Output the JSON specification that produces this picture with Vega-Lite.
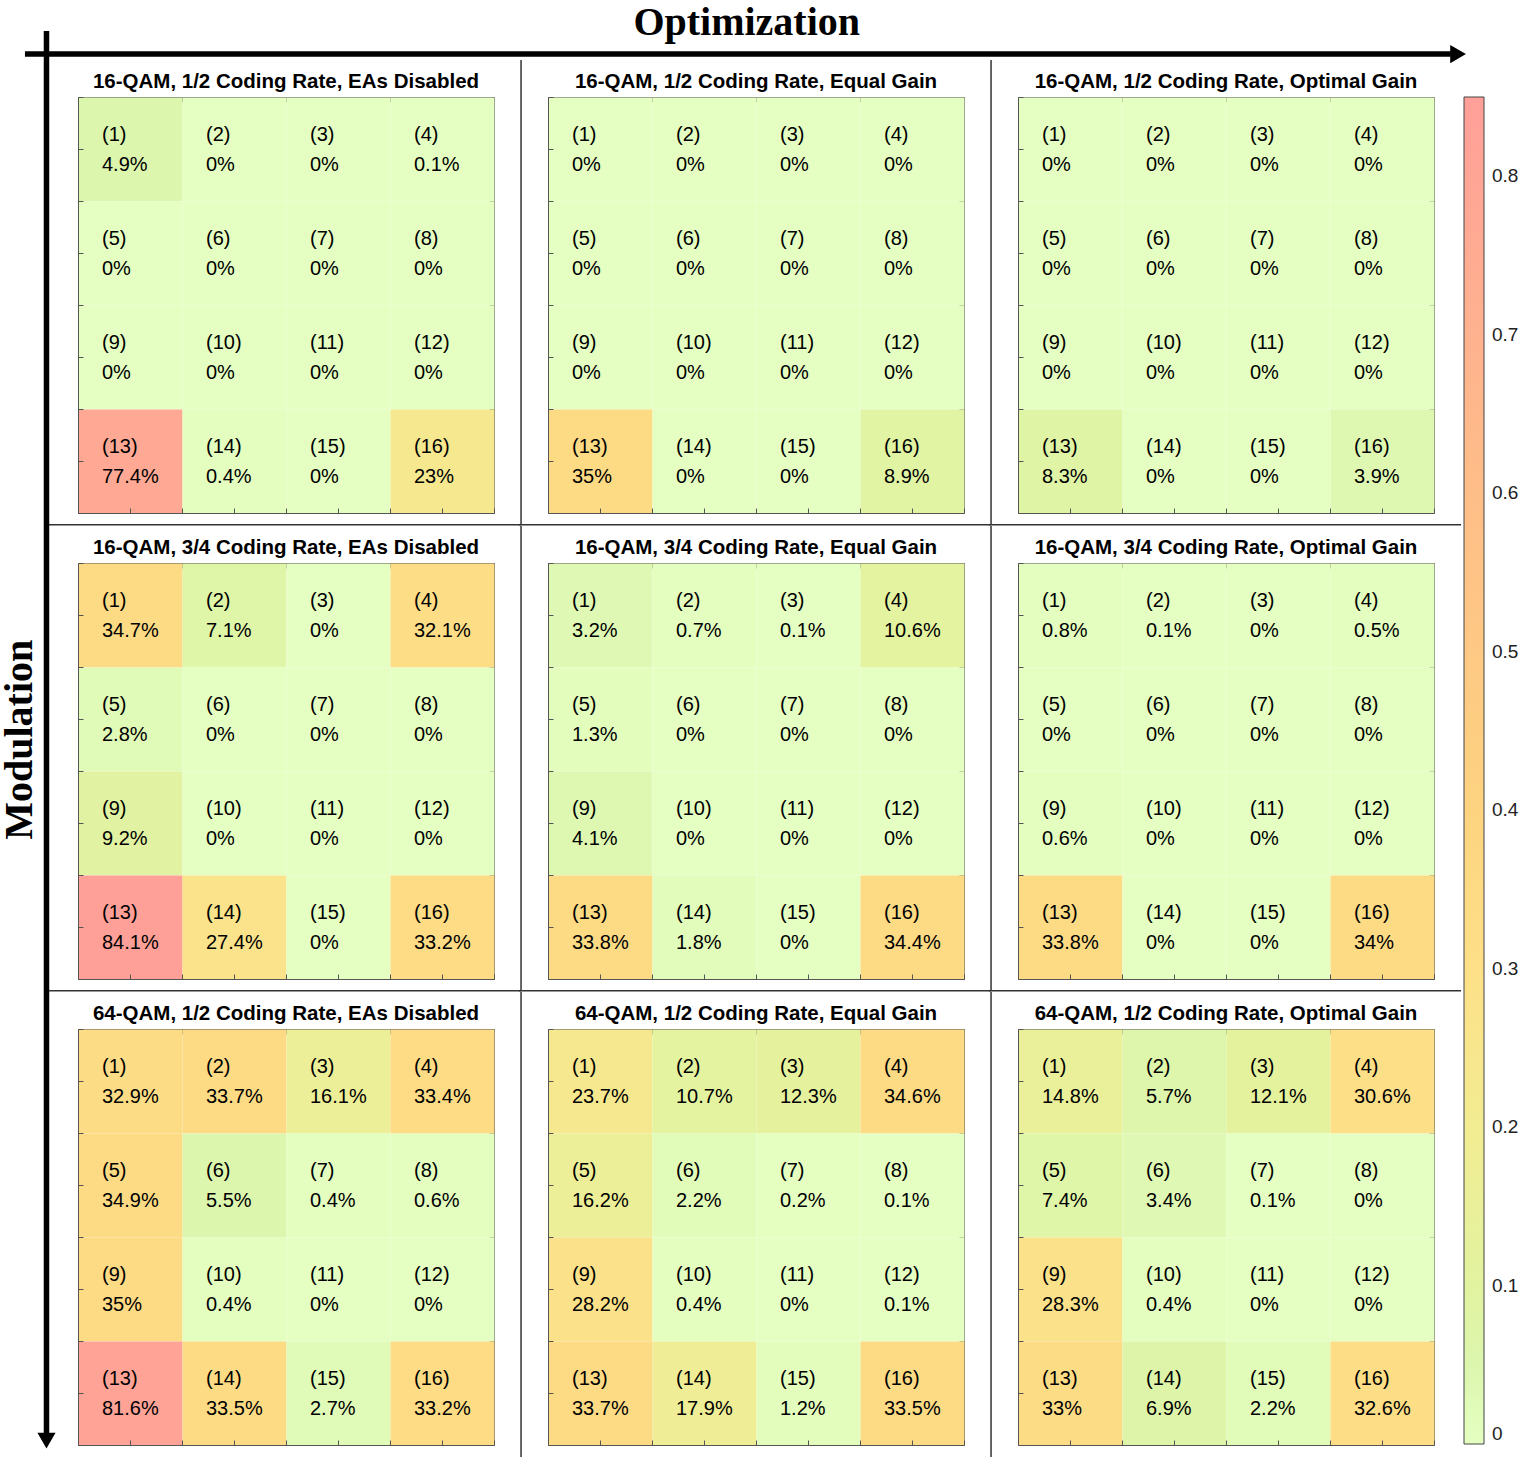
{
  "$schema": "https://vega.github.io/schema/vega-lite/v6.json",
  "background": "white",
  "padding": {"left": -1, "top": 2, "right": 0, "bottom": 0},
  "bounds": "flush",
  "data": {"values": [
    {"p":"16-QAM, 1/2 Coding Rate, EAs Disabled","r":1,"c":1,"id":"(1)","v":0.049},
    {"p":"16-QAM, 1/2 Coding Rate, EAs Disabled","r":1,"c":2,"id":"(2)","v":0},
    {"p":"16-QAM, 1/2 Coding Rate, EAs Disabled","r":1,"c":3,"id":"(3)","v":0},
    {"p":"16-QAM, 1/2 Coding Rate, EAs Disabled","r":1,"c":4,"id":"(4)","v":0.001},
    {"p":"16-QAM, 1/2 Coding Rate, EAs Disabled","r":2,"c":1,"id":"(5)","v":0},
    {"p":"16-QAM, 1/2 Coding Rate, EAs Disabled","r":2,"c":2,"id":"(6)","v":0},
    {"p":"16-QAM, 1/2 Coding Rate, EAs Disabled","r":2,"c":3,"id":"(7)","v":0},
    {"p":"16-QAM, 1/2 Coding Rate, EAs Disabled","r":2,"c":4,"id":"(8)","v":0},
    {"p":"16-QAM, 1/2 Coding Rate, EAs Disabled","r":3,"c":1,"id":"(9)","v":0},
    {"p":"16-QAM, 1/2 Coding Rate, EAs Disabled","r":3,"c":2,"id":"(10)","v":0},
    {"p":"16-QAM, 1/2 Coding Rate, EAs Disabled","r":3,"c":3,"id":"(11)","v":0},
    {"p":"16-QAM, 1/2 Coding Rate, EAs Disabled","r":3,"c":4,"id":"(12)","v":0},
    {"p":"16-QAM, 1/2 Coding Rate, EAs Disabled","r":4,"c":1,"id":"(13)","v":0.774},
    {"p":"16-QAM, 1/2 Coding Rate, EAs Disabled","r":4,"c":2,"id":"(14)","v":0.004},
    {"p":"16-QAM, 1/2 Coding Rate, EAs Disabled","r":4,"c":3,"id":"(15)","v":0},
    {"p":"16-QAM, 1/2 Coding Rate, EAs Disabled","r":4,"c":4,"id":"(16)","v":0.23},

    {"p":"16-QAM, 1/2 Coding Rate, Equal Gain","r":1,"c":1,"id":"(1)","v":0},
    {"p":"16-QAM, 1/2 Coding Rate, Equal Gain","r":1,"c":2,"id":"(2)","v":0},
    {"p":"16-QAM, 1/2 Coding Rate, Equal Gain","r":1,"c":3,"id":"(3)","v":0},
    {"p":"16-QAM, 1/2 Coding Rate, Equal Gain","r":1,"c":4,"id":"(4)","v":0},
    {"p":"16-QAM, 1/2 Coding Rate, Equal Gain","r":2,"c":1,"id":"(5)","v":0},
    {"p":"16-QAM, 1/2 Coding Rate, Equal Gain","r":2,"c":2,"id":"(6)","v":0},
    {"p":"16-QAM, 1/2 Coding Rate, Equal Gain","r":2,"c":3,"id":"(7)","v":0},
    {"p":"16-QAM, 1/2 Coding Rate, Equal Gain","r":2,"c":4,"id":"(8)","v":0},
    {"p":"16-QAM, 1/2 Coding Rate, Equal Gain","r":3,"c":1,"id":"(9)","v":0},
    {"p":"16-QAM, 1/2 Coding Rate, Equal Gain","r":3,"c":2,"id":"(10)","v":0},
    {"p":"16-QAM, 1/2 Coding Rate, Equal Gain","r":3,"c":3,"id":"(11)","v":0},
    {"p":"16-QAM, 1/2 Coding Rate, Equal Gain","r":3,"c":4,"id":"(12)","v":0},
    {"p":"16-QAM, 1/2 Coding Rate, Equal Gain","r":4,"c":1,"id":"(13)","v":0.35},
    {"p":"16-QAM, 1/2 Coding Rate, Equal Gain","r":4,"c":2,"id":"(14)","v":0},
    {"p":"16-QAM, 1/2 Coding Rate, Equal Gain","r":4,"c":3,"id":"(15)","v":0},
    {"p":"16-QAM, 1/2 Coding Rate, Equal Gain","r":4,"c":4,"id":"(16)","v":0.089},

    {"p":"16-QAM, 1/2 Coding Rate, Optimal Gain","r":1,"c":1,"id":"(1)","v":0},
    {"p":"16-QAM, 1/2 Coding Rate, Optimal Gain","r":1,"c":2,"id":"(2)","v":0},
    {"p":"16-QAM, 1/2 Coding Rate, Optimal Gain","r":1,"c":3,"id":"(3)","v":0},
    {"p":"16-QAM, 1/2 Coding Rate, Optimal Gain","r":1,"c":4,"id":"(4)","v":0},
    {"p":"16-QAM, 1/2 Coding Rate, Optimal Gain","r":2,"c":1,"id":"(5)","v":0},
    {"p":"16-QAM, 1/2 Coding Rate, Optimal Gain","r":2,"c":2,"id":"(6)","v":0},
    {"p":"16-QAM, 1/2 Coding Rate, Optimal Gain","r":2,"c":3,"id":"(7)","v":0},
    {"p":"16-QAM, 1/2 Coding Rate, Optimal Gain","r":2,"c":4,"id":"(8)","v":0},
    {"p":"16-QAM, 1/2 Coding Rate, Optimal Gain","r":3,"c":1,"id":"(9)","v":0},
    {"p":"16-QAM, 1/2 Coding Rate, Optimal Gain","r":3,"c":2,"id":"(10)","v":0},
    {"p":"16-QAM, 1/2 Coding Rate, Optimal Gain","r":3,"c":3,"id":"(11)","v":0},
    {"p":"16-QAM, 1/2 Coding Rate, Optimal Gain","r":3,"c":4,"id":"(12)","v":0},
    {"p":"16-QAM, 1/2 Coding Rate, Optimal Gain","r":4,"c":1,"id":"(13)","v":0.083},
    {"p":"16-QAM, 1/2 Coding Rate, Optimal Gain","r":4,"c":2,"id":"(14)","v":0},
    {"p":"16-QAM, 1/2 Coding Rate, Optimal Gain","r":4,"c":3,"id":"(15)","v":0},
    {"p":"16-QAM, 1/2 Coding Rate, Optimal Gain","r":4,"c":4,"id":"(16)","v":0.039},

    {"p":"16-QAM, 3/4 Coding Rate, EAs Disabled","r":1,"c":1,"id":"(1)","v":0.347},
    {"p":"16-QAM, 3/4 Coding Rate, EAs Disabled","r":1,"c":2,"id":"(2)","v":0.071},
    {"p":"16-QAM, 3/4 Coding Rate, EAs Disabled","r":1,"c":3,"id":"(3)","v":0},
    {"p":"16-QAM, 3/4 Coding Rate, EAs Disabled","r":1,"c":4,"id":"(4)","v":0.321},
    {"p":"16-QAM, 3/4 Coding Rate, EAs Disabled","r":2,"c":1,"id":"(5)","v":0.028},
    {"p":"16-QAM, 3/4 Coding Rate, EAs Disabled","r":2,"c":2,"id":"(6)","v":0},
    {"p":"16-QAM, 3/4 Coding Rate, EAs Disabled","r":2,"c":3,"id":"(7)","v":0},
    {"p":"16-QAM, 3/4 Coding Rate, EAs Disabled","r":2,"c":4,"id":"(8)","v":0},
    {"p":"16-QAM, 3/4 Coding Rate, EAs Disabled","r":3,"c":1,"id":"(9)","v":0.092},
    {"p":"16-QAM, 3/4 Coding Rate, EAs Disabled","r":3,"c":2,"id":"(10)","v":0},
    {"p":"16-QAM, 3/4 Coding Rate, EAs Disabled","r":3,"c":3,"id":"(11)","v":0},
    {"p":"16-QAM, 3/4 Coding Rate, EAs Disabled","r":3,"c":4,"id":"(12)","v":0},
    {"p":"16-QAM, 3/4 Coding Rate, EAs Disabled","r":4,"c":1,"id":"(13)","v":0.841},
    {"p":"16-QAM, 3/4 Coding Rate, EAs Disabled","r":4,"c":2,"id":"(14)","v":0.274},
    {"p":"16-QAM, 3/4 Coding Rate, EAs Disabled","r":4,"c":3,"id":"(15)","v":0},
    {"p":"16-QAM, 3/4 Coding Rate, EAs Disabled","r":4,"c":4,"id":"(16)","v":0.332},

    {"p":"16-QAM, 3/4 Coding Rate, Equal Gain","r":1,"c":1,"id":"(1)","v":0.032},
    {"p":"16-QAM, 3/4 Coding Rate, Equal Gain","r":1,"c":2,"id":"(2)","v":0.007},
    {"p":"16-QAM, 3/4 Coding Rate, Equal Gain","r":1,"c":3,"id":"(3)","v":0.001},
    {"p":"16-QAM, 3/4 Coding Rate, Equal Gain","r":1,"c":4,"id":"(4)","v":0.106},
    {"p":"16-QAM, 3/4 Coding Rate, Equal Gain","r":2,"c":1,"id":"(5)","v":0.013},
    {"p":"16-QAM, 3/4 Coding Rate, Equal Gain","r":2,"c":2,"id":"(6)","v":0},
    {"p":"16-QAM, 3/4 Coding Rate, Equal Gain","r":2,"c":3,"id":"(7)","v":0},
    {"p":"16-QAM, 3/4 Coding Rate, Equal Gain","r":2,"c":4,"id":"(8)","v":0},
    {"p":"16-QAM, 3/4 Coding Rate, Equal Gain","r":3,"c":1,"id":"(9)","v":0.041},
    {"p":"16-QAM, 3/4 Coding Rate, Equal Gain","r":3,"c":2,"id":"(10)","v":0},
    {"p":"16-QAM, 3/4 Coding Rate, Equal Gain","r":3,"c":3,"id":"(11)","v":0},
    {"p":"16-QAM, 3/4 Coding Rate, Equal Gain","r":3,"c":4,"id":"(12)","v":0},
    {"p":"16-QAM, 3/4 Coding Rate, Equal Gain","r":4,"c":1,"id":"(13)","v":0.338},
    {"p":"16-QAM, 3/4 Coding Rate, Equal Gain","r":4,"c":2,"id":"(14)","v":0.018},
    {"p":"16-QAM, 3/4 Coding Rate, Equal Gain","r":4,"c":3,"id":"(15)","v":0},
    {"p":"16-QAM, 3/4 Coding Rate, Equal Gain","r":4,"c":4,"id":"(16)","v":0.344},

    {"p":"16-QAM, 3/4 Coding Rate, Optimal Gain","r":1,"c":1,"id":"(1)","v":0.008},
    {"p":"16-QAM, 3/4 Coding Rate, Optimal Gain","r":1,"c":2,"id":"(2)","v":0.001},
    {"p":"16-QAM, 3/4 Coding Rate, Optimal Gain","r":1,"c":3,"id":"(3)","v":0},
    {"p":"16-QAM, 3/4 Coding Rate, Optimal Gain","r":1,"c":4,"id":"(4)","v":0.005},
    {"p":"16-QAM, 3/4 Coding Rate, Optimal Gain","r":2,"c":1,"id":"(5)","v":0},
    {"p":"16-QAM, 3/4 Coding Rate, Optimal Gain","r":2,"c":2,"id":"(6)","v":0},
    {"p":"16-QAM, 3/4 Coding Rate, Optimal Gain","r":2,"c":3,"id":"(7)","v":0},
    {"p":"16-QAM, 3/4 Coding Rate, Optimal Gain","r":2,"c":4,"id":"(8)","v":0},
    {"p":"16-QAM, 3/4 Coding Rate, Optimal Gain","r":3,"c":1,"id":"(9)","v":0.006},
    {"p":"16-QAM, 3/4 Coding Rate, Optimal Gain","r":3,"c":2,"id":"(10)","v":0},
    {"p":"16-QAM, 3/4 Coding Rate, Optimal Gain","r":3,"c":3,"id":"(11)","v":0},
    {"p":"16-QAM, 3/4 Coding Rate, Optimal Gain","r":3,"c":4,"id":"(12)","v":0},
    {"p":"16-QAM, 3/4 Coding Rate, Optimal Gain","r":4,"c":1,"id":"(13)","v":0.338},
    {"p":"16-QAM, 3/4 Coding Rate, Optimal Gain","r":4,"c":2,"id":"(14)","v":0},
    {"p":"16-QAM, 3/4 Coding Rate, Optimal Gain","r":4,"c":3,"id":"(15)","v":0},
    {"p":"16-QAM, 3/4 Coding Rate, Optimal Gain","r":4,"c":4,"id":"(16)","v":0.34},

    {"p":"64-QAM, 1/2 Coding Rate, EAs Disabled","r":1,"c":1,"id":"(1)","v":0.329},
    {"p":"64-QAM, 1/2 Coding Rate, EAs Disabled","r":1,"c":2,"id":"(2)","v":0.337},
    {"p":"64-QAM, 1/2 Coding Rate, EAs Disabled","r":1,"c":3,"id":"(3)","v":0.161},
    {"p":"64-QAM, 1/2 Coding Rate, EAs Disabled","r":1,"c":4,"id":"(4)","v":0.334},
    {"p":"64-QAM, 1/2 Coding Rate, EAs Disabled","r":2,"c":1,"id":"(5)","v":0.349},
    {"p":"64-QAM, 1/2 Coding Rate, EAs Disabled","r":2,"c":2,"id":"(6)","v":0.055},
    {"p":"64-QAM, 1/2 Coding Rate, EAs Disabled","r":2,"c":3,"id":"(7)","v":0.004},
    {"p":"64-QAM, 1/2 Coding Rate, EAs Disabled","r":2,"c":4,"id":"(8)","v":0.006},
    {"p":"64-QAM, 1/2 Coding Rate, EAs Disabled","r":3,"c":1,"id":"(9)","v":0.35},
    {"p":"64-QAM, 1/2 Coding Rate, EAs Disabled","r":3,"c":2,"id":"(10)","v":0.004},
    {"p":"64-QAM, 1/2 Coding Rate, EAs Disabled","r":3,"c":3,"id":"(11)","v":0},
    {"p":"64-QAM, 1/2 Coding Rate, EAs Disabled","r":3,"c":4,"id":"(12)","v":0},
    {"p":"64-QAM, 1/2 Coding Rate, EAs Disabled","r":4,"c":1,"id":"(13)","v":0.816},
    {"p":"64-QAM, 1/2 Coding Rate, EAs Disabled","r":4,"c":2,"id":"(14)","v":0.335},
    {"p":"64-QAM, 1/2 Coding Rate, EAs Disabled","r":4,"c":3,"id":"(15)","v":0.027},
    {"p":"64-QAM, 1/2 Coding Rate, EAs Disabled","r":4,"c":4,"id":"(16)","v":0.332},

    {"p":"64-QAM, 1/2 Coding Rate, Equal Gain","r":1,"c":1,"id":"(1)","v":0.237},
    {"p":"64-QAM, 1/2 Coding Rate, Equal Gain","r":1,"c":2,"id":"(2)","v":0.107},
    {"p":"64-QAM, 1/2 Coding Rate, Equal Gain","r":1,"c":3,"id":"(3)","v":0.123},
    {"p":"64-QAM, 1/2 Coding Rate, Equal Gain","r":1,"c":4,"id":"(4)","v":0.346},
    {"p":"64-QAM, 1/2 Coding Rate, Equal Gain","r":2,"c":1,"id":"(5)","v":0.162},
    {"p":"64-QAM, 1/2 Coding Rate, Equal Gain","r":2,"c":2,"id":"(6)","v":0.022},
    {"p":"64-QAM, 1/2 Coding Rate, Equal Gain","r":2,"c":3,"id":"(7)","v":0.002},
    {"p":"64-QAM, 1/2 Coding Rate, Equal Gain","r":2,"c":4,"id":"(8)","v":0.001},
    {"p":"64-QAM, 1/2 Coding Rate, Equal Gain","r":3,"c":1,"id":"(9)","v":0.282},
    {"p":"64-QAM, 1/2 Coding Rate, Equal Gain","r":3,"c":2,"id":"(10)","v":0.004},
    {"p":"64-QAM, 1/2 Coding Rate, Equal Gain","r":3,"c":3,"id":"(11)","v":0},
    {"p":"64-QAM, 1/2 Coding Rate, Equal Gain","r":3,"c":4,"id":"(12)","v":0.001},
    {"p":"64-QAM, 1/2 Coding Rate, Equal Gain","r":4,"c":1,"id":"(13)","v":0.337},
    {"p":"64-QAM, 1/2 Coding Rate, Equal Gain","r":4,"c":2,"id":"(14)","v":0.179},
    {"p":"64-QAM, 1/2 Coding Rate, Equal Gain","r":4,"c":3,"id":"(15)","v":0.012},
    {"p":"64-QAM, 1/2 Coding Rate, Equal Gain","r":4,"c":4,"id":"(16)","v":0.335},

    {"p":"64-QAM, 1/2 Coding Rate, Optimal Gain","r":1,"c":1,"id":"(1)","v":0.148},
    {"p":"64-QAM, 1/2 Coding Rate, Optimal Gain","r":1,"c":2,"id":"(2)","v":0.057},
    {"p":"64-QAM, 1/2 Coding Rate, Optimal Gain","r":1,"c":3,"id":"(3)","v":0.121},
    {"p":"64-QAM, 1/2 Coding Rate, Optimal Gain","r":1,"c":4,"id":"(4)","v":0.306},
    {"p":"64-QAM, 1/2 Coding Rate, Optimal Gain","r":2,"c":1,"id":"(5)","v":0.074},
    {"p":"64-QAM, 1/2 Coding Rate, Optimal Gain","r":2,"c":2,"id":"(6)","v":0.034},
    {"p":"64-QAM, 1/2 Coding Rate, Optimal Gain","r":2,"c":3,"id":"(7)","v":0.001},
    {"p":"64-QAM, 1/2 Coding Rate, Optimal Gain","r":2,"c":4,"id":"(8)","v":0},
    {"p":"64-QAM, 1/2 Coding Rate, Optimal Gain","r":3,"c":1,"id":"(9)","v":0.283},
    {"p":"64-QAM, 1/2 Coding Rate, Optimal Gain","r":3,"c":2,"id":"(10)","v":0.004},
    {"p":"64-QAM, 1/2 Coding Rate, Optimal Gain","r":3,"c":3,"id":"(11)","v":0},
    {"p":"64-QAM, 1/2 Coding Rate, Optimal Gain","r":3,"c":4,"id":"(12)","v":0},
    {"p":"64-QAM, 1/2 Coding Rate, Optimal Gain","r":4,"c":1,"id":"(13)","v":0.33},
    {"p":"64-QAM, 1/2 Coding Rate, Optimal Gain","r":4,"c":2,"id":"(14)","v":0.069},
    {"p":"64-QAM, 1/2 Coding Rate, Optimal Gain","r":4,"c":3,"id":"(15)","v":0.022},
    {"p":"64-QAM, 1/2 Coding Rate, Optimal Gain","r":4,"c":4,"id":"(16)","v":0.326}
  ]},
  "facet": {
    "field": "p", "type": "nominal", "title": null,
    "sort": [
      "16-QAM, 1/2 Coding Rate, EAs Disabled","16-QAM, 1/2 Coding Rate, Equal Gain","16-QAM, 1/2 Coding Rate, Optimal Gain",
      "16-QAM, 3/4 Coding Rate, EAs Disabled","16-QAM, 3/4 Coding Rate, Equal Gain","16-QAM, 3/4 Coding Rate, Optimal Gain",
      "64-QAM, 1/2 Coding Rate, EAs Disabled","64-QAM, 1/2 Coding Rate, Equal Gain","64-QAM, 1/2 Coding Rate, Optimal Gain"
    ],
    "header": {"labels": false, "title": null, "labelPadding": 0, "labelExpr": "''", "labelFontSize": 1}
  },
  "columns": 3,
  "spacing": {"row": 50, "column": 54},
  "resolve": {"axis": {"x": "independent", "y": "independent"}},
  "spec": {
    "width": 416,
    "height": 416,
    "resolve": {"axis": {"x": "independent", "y": "independent"}},
    "layer": [
      {
        "mark": {"type": "rect"},
        "encoding": {
          "x": {"field": "c", "type": "quantitative", "bin": {"step": 1, "extent": [0.5, 4.5], "nice": false},
                "scale": {"domain": [0.5, 4.5], "nice": false, "zero": false},
                "axis": {"orient": "bottom", "values": [0.5,1,1.5,2,2.5,3,3.5,4,4.5]}},
          "y": {"field": "r", "type": "quantitative", "bin": {"step": 1, "extent": [0.5, 4.5], "nice": false},
                "scale": {"domain": [0.5, 4.5], "nice": false, "zero": false, "reverse": true},
                "axis": {"orient": "left", "values": [0.5,1,1.5,2,2.5,3,3.5,4,4.5]}},
          "color": {
            "field": "v", "type": "quantitative",
            "scale": {
              "domain": [0, 0.05, 0.1, 0.2, 0.3, 0.4, 0.6, 0.85],
              "range": ["#E5FFC2", "#DCF6AE", "#E2F3A0", "#F2EC92", "#FDE088", "#FDD380", "#FEBE88", "#FF9F99"],
              "interpolate": "rgb"
            },
            "legend": {
              "title": null, "orient": "right", "direction": "vertical",
              "gradientLength": 1347, "gradientThickness": 20, "offset": -2,
              "values": [0, 0.1, 0.2, 0.3, 0.4, 0.5, 0.6, 0.7, 0.8], "format": ".1~f",
              "labelFont": "Liberation Sans", "labelFontSize": 19, "labelColor": "#222222", "labelOffset": 8,
              "gradientStrokeColor": "#444444", "gradientStrokeWidth": 1
            }
          }
        }
      },
      {
        "mark": {"type": "text", "align": "left", "baseline": "middle", "dx": -28, "dy": -14, "font": "Liberation Sans", "fontSize": 20, "color": "black"},
        "encoding": {
          "x": {"field": "c", "type": "quantitative", "axis": {"orient": "top", "values": [0.5,1,1.5,2,2.5,3,3.5,4,4.5]}},
          "y": {"field": "r", "type": "quantitative", "axis": {"orient": "right", "values": [0.5,1,1.5,2,2.5,3,3.5,4,4.5]}},
          "text": {"field": "id"}
        }
      },
      {
        "mark": {"type": "text", "align": "left", "baseline": "middle", "dx": -28, "dy": 16, "font": "Liberation Sans", "fontSize": 20, "color": "black"},
        "encoding": {
          "x": {"field": "c", "type": "quantitative", "axis": null},
          "y": {"field": "r", "type": "quantitative", "axis": null},
          "text": {"field": "v", "format": ".1~%"}
        }
      },
      {
        "transform": [{"filter": {"field": "id", "equal": "(1)"}}],
        "mark": {"type": "text", "align": "center", "baseline": "alphabetic", "clip": false, "font": "Liberation Sans", "fontSize": 20.5, "fontWeight": "bold", "color": "black"},
        "encoding": {
          "x": {"datum": 2.5, "axis": null},
          "y": {"datum": 0.41, "axis": null},
          "text": {"field": "p"}
        }
      },
      {
        "transform": [
          {"filter": {"field": "id", "equal": "(1)"}},
          {"filter": {"field": "p", "oneOf": ["16-QAM, 1/2 Coding Rate, EAs Disabled","16-QAM, 1/2 Coding Rate, Equal Gain","16-QAM, 3/4 Coding Rate, EAs Disabled","16-QAM, 3/4 Coding Rate, Equal Gain","64-QAM, 1/2 Coding Rate, EAs Disabled","64-QAM, 1/2 Coding Rate, Equal Gain"]}}
        ],
        "mark": {"type": "rule", "clip": false, "color": "#333333", "strokeWidth": 1.5},
        "encoding": {
          "x": {"datum": 4.76, "axis": null},
          "y": {"datum": 0.144, "axis": null},
          "y2": {"datum": 4.615}
        }
      },
      {
        "transform": [
          {"filter": {"field": "id", "equal": "(1)"}},
          {"filter": {"field": "p", "oneOf": ["16-QAM, 1/2 Coding Rate, EAs Disabled","16-QAM, 1/2 Coding Rate, Equal Gain","16-QAM, 1/2 Coding Rate, Optimal Gain","16-QAM, 3/4 Coding Rate, EAs Disabled","16-QAM, 3/4 Coding Rate, Equal Gain","16-QAM, 3/4 Coding Rate, Optimal Gain"]}}
        ],
        "mark": {"type": "rule", "clip": false, "color": "#333333", "strokeWidth": 1.5},
        "encoding": {
          "x": {"datum": 0.22, "axis": null},
          "x2": {"datum": 4.76},
          "y": {"datum": 4.612, "axis": null}
        }
      },
      {
        "transform": [
          {"filter": {"field": "id", "equal": "(1)"}},
          {"filter": {"field": "p", "equal": "16-QAM, 1/2 Coding Rate, EAs Disabled"}}
        ],
        "layer": [
          {
            "mark": {"type": "rule", "clip": false, "color": "black", "strokeWidth": 5.5},
            "encoding": {"x": {"datum": -0.01, "axis": null}, "x2": {"datum": 13.7}, "y": {"datum": 0.087, "axis": null}}
          },
          {
            "mark": {"type": "point", "shape": "triangle-right", "filled": true, "clip": false, "color": "black", "size": 330, "opacity": 1},
            "encoding": {"x": {"datum": 13.77, "axis": null}, "y": {"datum": 0.087, "axis": null}}
          },
          {
            "mark": {"type": "rule", "clip": false, "color": "black", "strokeWidth": 5.5},
            "encoding": {"x": {"datum": 0.197, "axis": null}, "y": {"datum": -0.135, "axis": null}, "y2": {"datum": 13.375}}
          },
          {
            "mark": {"type": "point", "shape": "triangle-down", "filled": true, "clip": false, "color": "black", "size": 330, "opacity": 1},
            "encoding": {"x": {"datum": 0.197, "axis": null}, "y": {"datum": 13.42, "axis": null}}
          },
          {
            "mark": {"type": "text", "clip": false, "font": "Liberation Serif", "fontSize": 40, "fontWeight": "bold", "color": "black", "align": "center", "baseline": "alphabetic", "text": "Optimization"},
            "encoding": {"x": {"datum": 6.93, "axis": null}, "y": {"datum": -0.096, "axis": null}}
          },
          {
            "mark": {"type": "text", "clip": false, "font": "Liberation Serif", "fontSize": 40, "fontWeight": "bold", "color": "black", "align": "center", "baseline": "middle", "angle": 270, "text": "Modulation"},
            "encoding": {"x": {"datum": -0.058, "axis": null}, "y": {"datum": 6.68, "axis": null}}
          }
        ]
      }
    ]
  },
  "config": {
    "view": {"stroke": null},
    "header": {"labels": false},
    "headerFacet": {"labels": false},
    "axis": {"labels": false, "title": null, "grid": false, "tickSize": -5, "tickColor": "#555555", "domainColor": "#555555", "domainWidth": 1, "tickWidth": 1}
  }
}
